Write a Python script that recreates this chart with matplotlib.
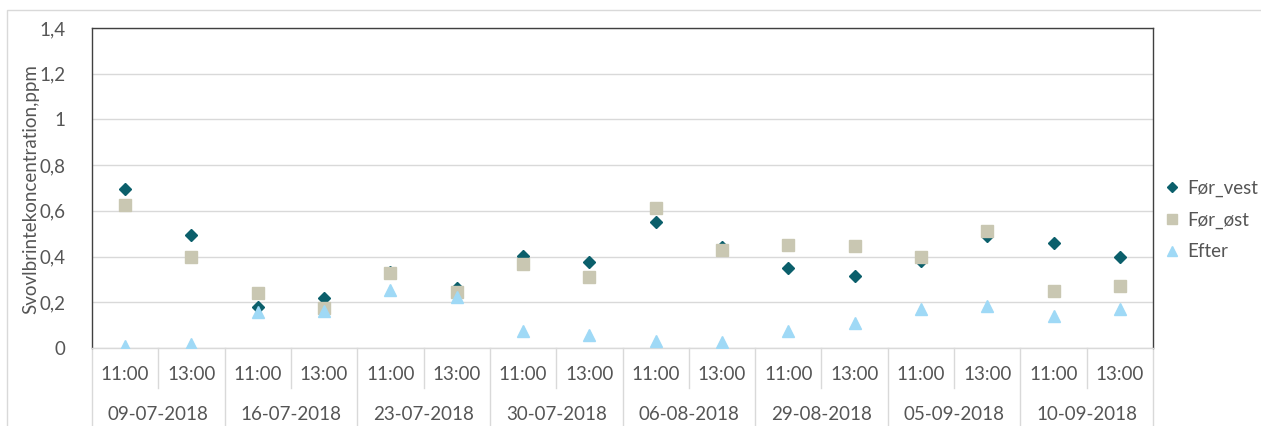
import matplotlib
matplotlib.use("Agg")
import matplotlib.pyplot as plt
from matplotlib.lines import Line2D
from matplotlib.patches import Rectangle

dates = ['09-07-2018', '16-07-2018', '23-07-2018', '30-07-2018',
         '06-08-2018', '29-08-2018', '05-09-2018', '10-09-2018']
times = ['11:00', '13:00']

for_vest = [0.695, 0.493, 0.179, 0.220, 0.334, 0.264, 0.402, 0.376,
            0.550, 0.440, 0.350, 0.316, 0.380, 0.490, 0.459, 0.397]
for_ost = [0.625, 0.398, 0.242, 0.173, 0.330, 0.246, 0.369, 0.309,
           0.612, 0.427, 0.452, 0.448, 0.397, 0.513, 0.249, 0.270]
efter = [0.010, 0.016, 0.157, 0.160, 0.252, 0.223, 0.073, 0.055,
         0.029, 0.028, 0.073, 0.108, 0.172, 0.182, 0.140, 0.172]

yticks = [0, 0.2, 0.4, 0.6, 0.8, 1.0, 1.2, 1.4]
ylabels = ['0', '0,2', '0,4', '0,6', '0,8', '1', '1,2', '1,4']

W, H = 1261, 426
fig = plt.figure(figsize=(W / 100, H / 100), dpi=100)
plt.rcParams['font.family'] = ['Lato', 'DejaVu Sans']
txt_col = '#555555'
fs = 13.5

L, R, T, B = 92, 1153, 28, 348
ax = fig.add_axes([L / W, 1 - B / H, (R - L) / W, (B - T) / H])

n = len(dates) * len(times)
x = list(range(n))
c_vest, c_ost, c_eft = '#0b5f6b', '#c9c7b2', '#9fd9f6'
ax.plot(x, for_vest, linestyle='none', marker='D', markersize=6, color=c_vest, label='Før_vest', zorder=3)
ax.plot(x, for_ost, linestyle='none', marker='s', markersize=8, color=c_ost, label='Før_øst', zorder=4)
ax.plot(x, efter, linestyle='none', marker='^', markersize=8.5, color=c_eft, label='Efter', zorder=5)

ax.set_xlim(-0.5, n - 0.5)
ax.set_ylim(0, 1.4)
ax.set_yticks(yticks)
ax.set_yticklabels(ylabels, color=txt_col, fontsize=fs)
ax.tick_params(axis='y', length=0, pad=19)
ax.set_xticks([])
ax.grid(axis='y', color='#d9d9d9', linewidth=1)
ax.set_axisbelow(True)
for s in ['left', 'top', 'right']:
    ax.spines[s].set_color('#404040')
    ax.spines[s].set_linewidth(1)
ax.spines['bottom'].set_color('#d9d9d9')
ax.spines['bottom'].set_linewidth(1)

fig.text(31 / W, 1 - 189 / H, 'Svovlbrintekoncentration,ppm', rotation=90,
         ha='center', va='center', color=txt_col, fontsize=fs)

# two-level category axis
trans = ax.get_xaxis_transform()
y_short = -(388 - B) / (B - T)
y_long = -(H + 5 - B) / (B - T)
y_time = -(375 - B) / (B - T)
y_date = -(415 - B) / (B - T)
for i in range(n + 1):
    xe = i - 0.5
    yb = y_long if i % 2 == 0 else y_short
    ax.add_line(Line2D([xe, xe], [0, yb], transform=trans, color='#d9d9d9',
                       linewidth=1, clip_on=False))
for i in range(n):
    ax.text(i, y_time, times[i % 2], transform=trans, ha='center', va='center',
            color=txt_col, fontsize=fs)
for j, d in enumerate(dates):
    ax.text(2 * j + 0.5, y_date, d, transform=trans, ha='center', va='center',
            color=txt_col, fontsize=fs)

leg = ax.legend(loc='center left', bbox_to_anchor=(1156 / W, 1 - 220 / H),
                bbox_transform=fig.transFigure, frameon=False, fontsize=fs,
                handlelength=0.7, handletextpad=0.45, labelspacing=0.78,
                borderpad=0, markerscale=0.85)
for t in leg.get_texts():
    t.set_color(txt_col)

# chart area border
fig.patches.append(Rectangle((7 / W, -0.1), (W + 10) / W, 1 - 10 / H + 0.1,
                             transform=fig.transFigure, fill=False,
                             edgecolor='#d9d9d9', linewidth=1))

fig.savefig('out.png', dpi=100)
